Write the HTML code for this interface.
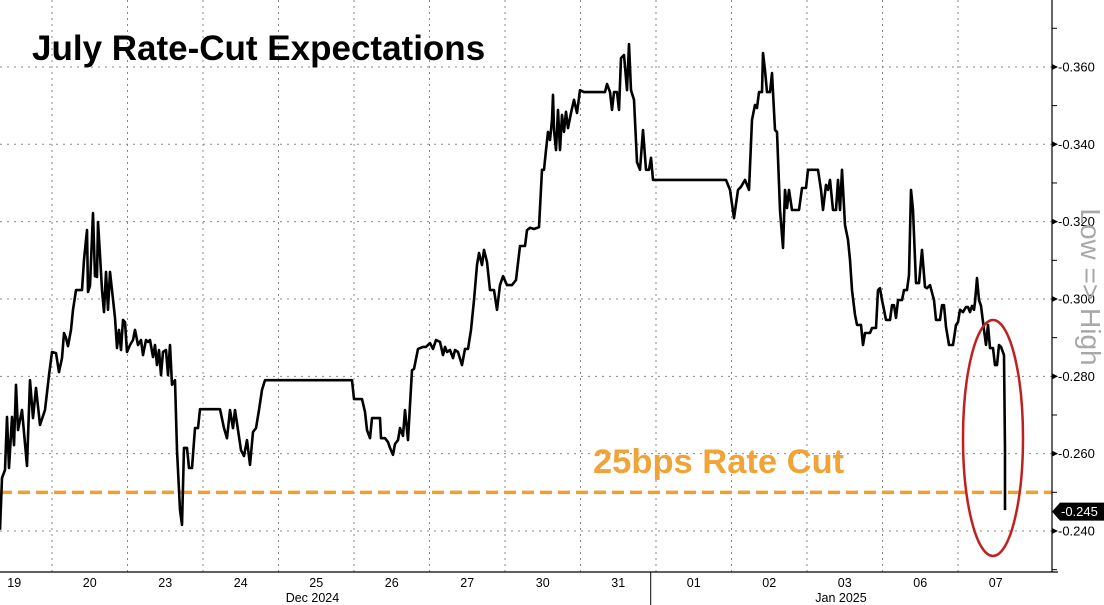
<!DOCTYPE html>
<html><head><meta charset="utf-8"><style>
html,body{margin:0;padding:0;background:#fff;}
svg{display:block;font-family:"Liberation Sans",sans-serif;}
</style></head><body>
<svg id="chart" width="1104" height="605" viewBox="0 0 1104 605" xmlns="http://www.w3.org/2000/svg">
<rect x="0" y="0" width="1104" height="605" fill="#fff"/>
<g id="grid"></g>
<g id="refline"></g>
<g id="series"></g>
<g id="axes"></g>
<text x="32" y="60" font-size="35" font-weight="bold" fill="#000">July Rate-Cut Expectations</text>
<text x="593" y="473" font-size="34.5" font-weight="bold" fill="#f0a438">25bps Rate Cut</text>
<ellipse cx="993" cy="438" rx="30" ry="118" fill="none" stroke="#c02020" stroke-width="2.5"/>
<text transform="translate(1081,287) rotate(90)" text-anchor="middle" font-size="28" fill="#a8a8a8">Low =&gt; High</text>
</svg>
<script>
// values are negative; axis is inverted (more negative at top). Stored as magnitudes.
const yTicks = [0.24, 0.26, 0.28, 0.30, 0.32, 0.34, 0.36];
const xDayLabels = ["19","20","23","24","25","26","27","30","31","01","02","03","06","07"];
const monthNames = ["Dec 2024", "Jan 2025"];
const monthCenters = [4.45, 11.45];
const monthBoundary = 8.93;
const cutLevel = 0.25;
const lastValue = 0.245;
const points = [
[0.311,.2403],[0.338,.2537],[0.377,.2558],[0.404,.2695],[0.430,.2563],[0.470,.2695],[0.497,.2622],[0.523,.2778],[0.550,.2661],[0.603,.2713],[0.669,.2568],[0.709,.2790],[0.748,.2692],[0.788,.2770],[0.841,.2674],[0.907,.2713],[0.960,.2803],[1.000,.2863],[1.053,.2860],[1.093,.2811],[1.132,.2847],[1.159,.2912],[1.185,.2899],[1.212,.2878],[1.252,.2920],[1.278,.2972],[1.318,.3023],[1.397,.3023],[1.424,.3101],[1.464,.3178],[1.477,.3018],[1.503,.3034],[1.543,.3222],[1.570,.3059],[1.596,.3057],[1.609,.3199],[1.636,.3114],[1.662,.3023],[1.689,.2966],[1.715,.3070],[1.742,.2972],[1.768,.3070],[1.795,.3023],[1.834,.2951],[1.861,.2873],[1.887,.2920],[1.914,.2868],[1.940,.2946],[1.967,.2940],[1.993,.2863],[2.033,.2881],[2.073,.2894],[2.099,.2920],[2.139,.2881],[2.179,.2894],[2.205,.2855],[2.245,.2894],[2.272,.2889],[2.298,.2894],[2.338,.2850],[2.364,.2881],[2.391,.2829],[2.417,.2868],[2.444,.2803],[2.470,.2863],[2.510,.2868],[2.536,.2803],[2.563,.2881],[2.589,.2778],[2.629,.2790],[2.656,.2609],[2.695,.2454],[2.722,.2416],[2.748,.2615],[2.788,.2615],[2.815,.2563],[2.854,.2563],[2.894,.2666],[2.934,.2666],[2.960,.2715],[3.000,.2715],[3.225,.2715],[3.278,.2666],[3.318,.2640],[3.358,.2713],[3.397,.2666],[3.424,.2713],[3.464,.2661],[3.503,.2609],[3.543,.2594],[3.583,.2635],[3.623,.2571],[3.662,.2656],[3.702,.2666],[3.742,.2713],[3.781,.2765],[3.821,.2790],[4.947,.2790],
[4.974,.2790],[5.000,.2741],[5.106,.2741],[5.146,.2708],[5.172,.2661],[5.212,.2640],[5.238,.2692],[5.344,.2692],[5.358,.2640],[5.411,.2640],[5.450,.2630],[5.477,.2615],[5.517,.2597],[5.543,.2625],[5.583,.2635],[5.609,.2666],[5.649,.2646],[5.675,.2713],[5.715,.2635],[5.768,.2816],[5.795,.2819],[5.848,.2871],[5.914,.2876],[5.954,.2876],[6.007,.2886],[6.046,.2871],[6.086,.2894],[6.139,.2889],[6.179,.2855],[6.205,.2876],[6.232,.2863],[6.272,.2868],[6.311,.2847],[6.338,.2868],[6.377,.2863],[6.430,.2829],[6.470,.2871],[6.510,.2871],[6.550,.2920],[6.589,.2997],[6.629,.3088],[6.656,.3119],[6.695,.3088],[6.722,.3127],[6.762,.3096],[6.801,.3023],[6.854,.3023],[6.894,.2972],[6.934,.3036],[6.974,.3059],[7.026,.3036],[7.093,.3036],[7.146,.3049],[7.199,.3137],[7.265,.3137],[7.291,.3178],[7.331,.3184],[7.384,.3181],[7.450,.3186],[7.490,.3334],[7.517,.3334],[7.543,.3385],[7.570,.3432],[7.596,.3411],[7.623,.3463],[7.636,.3528],[7.649,.3437],[7.675,.3385],[7.702,.3489],[7.728,.3385],[7.755,.3476],[7.781,.3432],[7.808,.3484],[7.834,.3442],[7.874,.3481],[7.914,.3515],[7.954,.3481],[7.993,.3540],[8.046,.3535],[8.325,.3535],[8.351,.3556],[8.391,.3535],[8.417,.3489],[8.444,.3535],[8.483,.3535],[8.510,.3489],[8.536,.3623],[8.576,.3631],[8.616,.3540],[8.642,.3659],[8.669,.3540],[8.709,.3515],[8.748,.3354],[8.788,.3334],[8.828,.3437],[8.868,.3334],[8.907,.3334],[8.934,.3365],[8.960,.3308],[9.927,.3308],
[9.980,.3282],[10.033,.3209],[10.086,.3282],[10.126,.3290],[10.179,.3308],[10.232,.3282],[10.272,.3463],[10.311,.3502],[10.338,.3494],[10.364,.3535],[10.404,.3535],[10.417,.3636],[10.444,.3592],[10.470,.3535],[10.510,.3535],[10.536,.3584],[10.576,.3437],[10.603,.3432],[10.642,.3230],[10.682,.3132],[10.709,.3282],[10.735,.3235],[10.762,.3282],[10.801,.3230],[10.894,.3230],[10.934,.3287],[10.987,.3287],[11.013,.3334],[11.146,.3334],[11.185,.3282],[11.212,.3230],[11.252,.3295],[11.278,.3282],[11.305,.3308],[11.344,.3230],[11.384,.3230],[11.411,.3308],[11.437,.3230],[11.464,.3334],[11.503,.3191],[11.543,.3153],[11.570,.3101],[11.596,.3023],[11.636,.2959],[11.662,.2933],[11.715,.2933],[11.742,.2881],[11.768,.2912],[11.834,.2912],[11.861,.2925],[11.914,.2925],[11.940,.3023],[11.967,.3028],[11.993,.2997],[12.020,.2972],[12.046,.2946],[12.099,.2946],[12.126,.2984],[12.152,.2984],[12.179,.2951],[12.205,.2997],[12.258,.2997],[12.285,.3023],[12.325,.3023],[12.351,.3062],[12.377,.3282],[12.404,.3230],[12.444,.3041],[12.483,.3041],[12.523,.3127],[12.563,.3031],[12.589,.3028],[12.629,.3036],[12.682,.2997],[12.709,.2946],[12.762,.2946],[12.788,.2984],[12.815,.2984],[12.841,.2928],[12.881,.2881],[12.934,.2881],[12.974,.2933],[13.000,.2940],[13.026,.2972],[13.066,.2966],[13.106,.2979],[13.132,.2979],[13.159,.2966],[13.185,.2982],[13.212,.2972],[13.225,.2992],[13.252,.3054],[13.278,.2997],[13.305,.2982],[13.344,.2920],[13.371,.2881],[13.397,.2933],[13.424,.2873],[13.464,.2873],[13.490,.2829],[13.517,.2829],[13.543,.2881],[13.570,.2876],[13.609,.2855],[13.623,.2609],[13.623,.2454]
];

const NS = "http://www.w3.org/2000/svg";
const PLOT_R = 1052, PLOT_B = 572;
function xScale(t){ return -23.5 + t * 75.5; }
function yScale(m){ return 531 - (m - 0.24) * 3867; }
function mk(tag, attrs, parent){ const e = document.createElementNS(NS, tag); for (const k in attrs) e.setAttribute(k, attrs[k]); parent.appendChild(e); return e; }

const grid = document.getElementById('grid');
yTicks.forEach(v => {
  const l = mk('line', {x1:0, x2:PLOT_R, y1:yScale(v), y2:yScale(v), stroke:'#888', 'stroke-width':1, 'stroke-dasharray':'2,5'}, grid);
  
  
});
for (let d = 1; d < xDayLabels.length; d++) {
  const x = xScale(d);
  if (x >= PLOT_R) continue;
  const l = mk('line', {x1:x, x2:x, y1:0, y2:PLOT_B, stroke:'#888', 'stroke-width':1, 'stroke-dasharray':'2,4'}, grid);
  
  
}

const ref = document.getElementById('refline');
const rl = mk('line', {x1:0, x2:PLOT_R, y1:yScale(cutLevel), y2:yScale(cutLevel), stroke:'#f0a030', 'stroke-width':3.5, 'stroke-dasharray':'12,6'}, ref);



const ser = document.getElementById('series');
const d = points.map((p,i) => (i ? 'L' : 'M') + xScale(p[0]).toFixed(1) + ',' + yScale(p[1]).toFixed(1)).join(' ');
const path = mk('path', {d:d, fill:'none', stroke:'#000', 'stroke-width':2.6, 'stroke-linejoin':'round'}, ser);



const ax = document.getElementById('axes');
const ya = mk('line', {x1:PLOT_R, x2:PLOT_R, y1:0, y2:PLOT_B, stroke:'#000', 'stroke-width':1.2}, ax);


const xa = mk('line', {x1:0, x2:PLOT_R + 6, y1:PLOT_B, y2:PLOT_B, stroke:'#000', 'stroke-width':1.2}, ax);


for (let m = 0.23; m <= 0.375; m += 0.01) {
  const y = yScale(m);
  if (y < 2 || y > PLOT_B) continue;
  const t = mk('line', {x1:PLOT_R, x2:PLOT_R + 5, y1:y, y2:y, stroke:'#000', 'stroke-width':1}, ax);
  
  
}
yTicks.forEach(v => {
  const y = yScale(v);
  const tri = mk('path', {d:`M${PLOT_R},${y-3} L${PLOT_R+6},${y} L${PLOT_R},${y+3} Z`, fill:'#000'}, ax);
  
  
  const tx = mk('text', {x:PLOT_R + 6, y:y + 4.5, 'font-size':13, fill:'#000'}, ax);
  tx.textContent = '-' + v.toFixed(3);
  
  
});
const ly = yScale(lastValue);
const badge = mk('path', {d:`M${PLOT_R},${ly} L${PLOT_R+8},${ly-9} L1104,${ly-9} L1104,${ly+9} L${PLOT_R+8},${ly+9} Z`, fill:'#000'}, ax);


const bt = mk('text', {x:PLOT_R + 9, y:ly + 4.5, 'font-size':13, fill:'#fff'}, ax);
bt.textContent = '-' + lastValue.toFixed(3);



xDayLabels.forEach((lab, i) => {
  const tx = mk('text', {x:xScale(i + 0.5), y:587, 'font-size':12.5, 'text-anchor':'middle', fill:'#000'}, ax);
  tx.textContent = lab;
  
  
});
monthNames.forEach((name, i) => {
  const tx = mk('text', {x:xScale(monthCenters[i]), y:602, 'font-size':12.5, 'text-anchor':'middle', fill:'#000'}, ax);
  tx.textContent = name;
  
  
});
const sep = mk('line', {x1:xScale(monthBoundary), x2:xScale(monthBoundary), y1:PLOT_B, y2:605, stroke:'#000', 'stroke-width':1}, ax);


</script>
</body></html>
